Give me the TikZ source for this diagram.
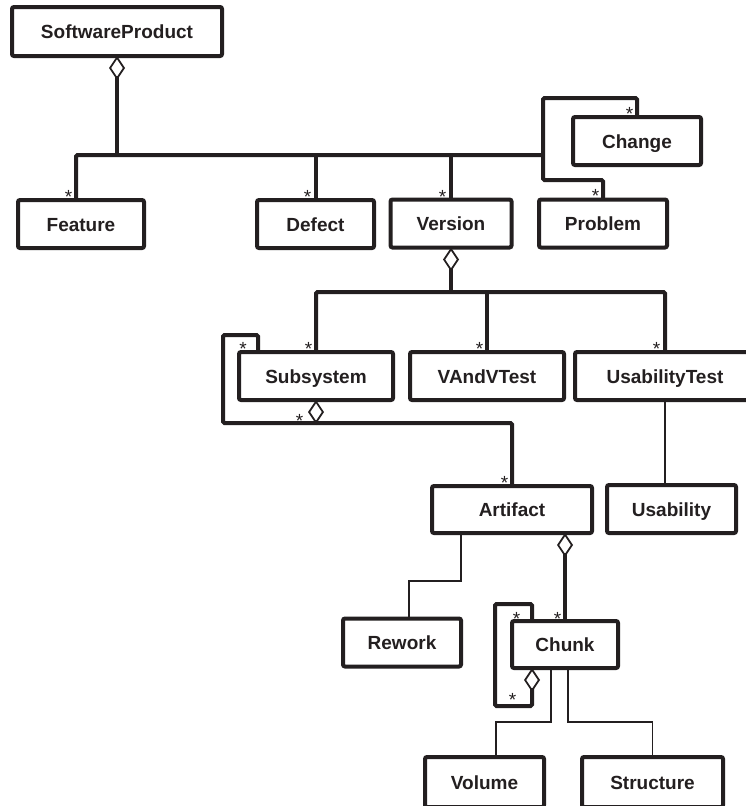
\documentclass[tikz,border=0pt]{standalone}
\usepackage{fontspec}
\setmainfont{Liberation Sans}
\usetikzlibrary{arrows.meta}
\definecolor{umlInk}{HTML}{231F20}
\tikzset{
  every picture/.style={text=umlInk},
  uml box/.style={draw=umlInk, line width=4pt, rounded corners=2pt, fill=white,
    outer sep=0pt, inner sep=0pt, minimum height=48pt, text height=16pt, text depth=2pt,
    font=\bfseries\fontsize{19}{22}\selectfont},
  uml line/.style={draw=umlInk, line width=4pt, rounded corners=1.5pt},
  uml thin/.style={draw=umlInk, line width=1.5pt},
  uml agg/.style={uml line, {Diamond[open,length=24pt,width=16pt,line width=1.8pt]}-},
  uml mult/.style={font=\fontsize{19}{22}\selectfont, inner sep=0pt, anchor=base east}
}
\begin{document}
\begin{tikzpicture}[x=1pt,y=-1pt]
  \useasboundingbox (0,0) rectangle (745,806);
  \node[uml box, minimum width=210pt, minimum height=49pt] (product) at (117,31.5) {SoftwareProduct};
  \node[uml box, minimum width=126pt] (feature) at (81,224) {Feature};
  \node[uml box, minimum width=117pt] (defect) at (315.5,224) {Defect};
  \node[uml box, minimum width=121pt] (version) at (451,223.5) {Version};
  \node[uml box, minimum width=128pt] (change) at (637,141) {Change};
  \node[uml box, minimum width=128pt] (problem) at (603,223.5) {Problem};
  \node[uml box, minimum width=154pt] (subsystem) at (316,376) {Subsystem};
  \node[uml box, minimum width=154pt] (vvtest) at (487,376) {VAndVTest};
  \node[uml box, minimum width=180pt] (utest) at (665,376) {UsabilityTest};
  \node[uml box, minimum width=160pt, minimum height=47pt] (artifact) at (512,509.5) {Artifact};
  \node[uml box, minimum width=129pt] (usability) at (671.5,509) {Usability};
  \node[uml box, minimum width=118pt] (rework) at (402,642.5) {Rework};
  \node[uml box, minimum width=106pt, minimum height=47pt] (chunk) at (565,644.5) {Chunk};
  \node[uml box, minimum width=119pt, minimum height=50pt] (volume) at (484.5,782) {Volume};
  \node[uml box, minimum width=141pt, minimum height=50pt] (structure) at (652.5,782) {Structure};

  \coordinate (productBus) at (117,155);
  \coordinate (issueJoin) at (543,155);
  \coordinate (issueTop) at (543,98);
  \coordinate (issueBot) at (543,180);
  \coordinate (versionBus) at (451,292);
  \coordinate (subsystemBot) at (316,423);
  \coordinate (subsystemLoop) at (223,335);
  \coordinate (reworkBend) at (409,581);
  \coordinate (chunkLoop) at (495,604);

  \draw[uml agg] (product.south) -- (productBus);
  \draw[uml line] ([xshift=-5pt]feature.north) |- (issueJoin);
  \draw[uml line] (defect.north) -- (defect.north |- issueJoin);
  \draw[uml line] (version.north) -- (version.north |- issueJoin);
  \draw[uml line] (change.north) |- (issueTop) -- (issueBot) -| (problem.north);

  \draw[uml agg] (version.south) -- (versionBus);
  \draw[uml line] (subsystem.north) |- (versionBus) -| (utest.north);
  \draw[uml line] (vvtest.north) -- (vvtest.north |- versionBus);

  \draw[uml agg] (subsystem.south) -- (subsystemBot);
  \draw[uml line] (subsystemBot) -| (subsystemLoop) -| ([xshift=-58pt]subsystem.north);
  \draw[uml line] (subsystemBot) -| (artifact.north);

  \draw[uml thin] (utest.south) -- (utest.south |- usability.north);
  \draw[uml thin] ([xshift=-51pt]artifact.south) |- (reworkBend) -- ([xshift=7pt]rework.north);
  \draw[uml agg] (artifact.south -| chunk.north) -- (chunk.north);

  \draw[uml agg] ([xshift=-33pt]chunk.south) -- ++(0,38) -| (chunkLoop) -| ([xshift=-33pt]chunk.north);
  \draw[uml thin] ([xshift=-14pt]chunk.south) |- (496,722) -- ([xshift=11.5pt]volume.north);
  \draw[uml thin] ([xshift=3pt]chunk.south) |- (652.5,722) -- (structure.north);

  \node[uml mult] (featureMult) at (72.5,203.4) {*};
  \node[uml mult] (defectMult) at (311.5,203.4) {*};
  \node[uml mult] (versionMult) at (446.5,203.4) {*};
  \node[uml mult] (changeMult) at (633.5,120.4) {*};
  \node[uml mult] (problemMult) at (599.5,202.4) {*};
  \node[uml mult] (subsystemMult) at (312.5,355.4) {*};
  \node[uml mult] (partMult) at (247,355.4) {*};
  \node[uml mult] (wholeMult) at (303.5,427.4) {*};
  \node[uml mult] (vvtestMult) at (483.5,355.4) {*};
  \node[uml mult] (utestMult) at (660.5,355.4) {*};
  \node[uml mult] (artifactMult) at (508.5,489.4) {*};
  \node[uml mult] (chunkMult) at (561.5,625.4) {*};
  \node[uml mult] (chunkPartMult) at (520.5,625.4) {*};
  \node[uml mult] (chunkWholeMult) at (516.5,706.4) {*};
\end{tikzpicture}
\end{document}
